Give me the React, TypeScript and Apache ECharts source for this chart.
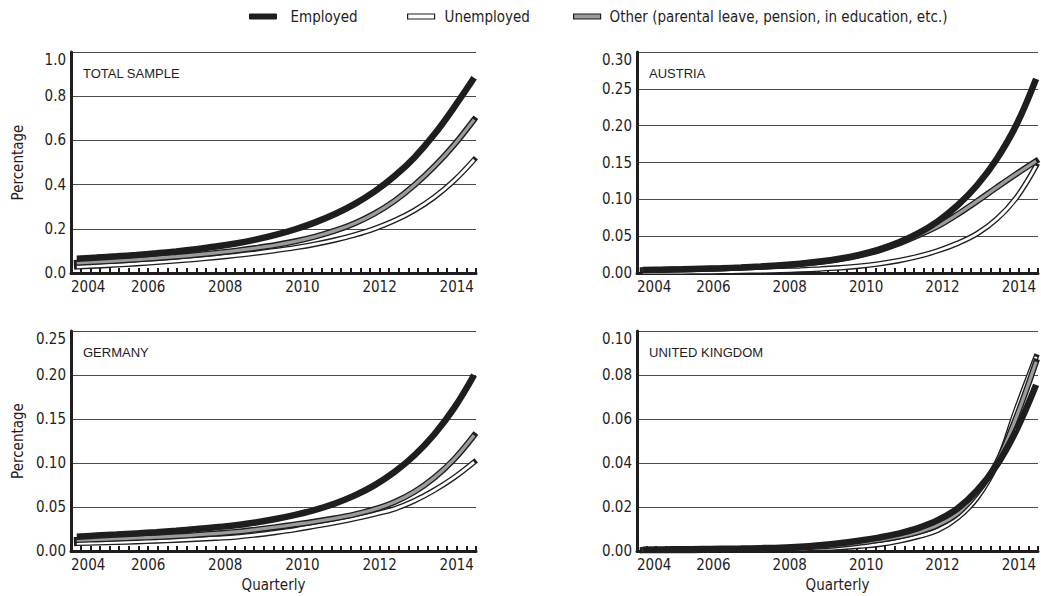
import React, { useEffect, useRef } from "react";
import * as echarts from "echarts";

const SAMPLE_YEARS = [
  2004.15, 2004.665, 2005.18, 2005.695, 2006.21, 2006.725, 2007.24, 2007.755, 2008.27, 2008.785, 2009.3,
  2009.815, 2010.33, 2010.845, 2011.36, 2011.875, 2012.39, 2012.905, 2013.42, 2013.935, 2014.45,
];

const SERIES_NAMES = ["Employed", "Unemployed", "Other (parental leave, pension, in education, etc.)"];
const PANEL_TITLES = ["TOTAL SAMPLE", "AUSTRIA", "GERMANY", "UNITED KINGDOM"];

// Total sample
const totalEmployed = [0.065, 0.0698, 0.0753, 0.0818, 0.0892, 0.0978, 0.1078, 0.1195, 0.1337, 0.151, 0.1722, 0.198, 0.2292, 0.2669, 0.3128, 0.369, 0.4385, 0.523, 0.6275, 0.7506, 0.8834];
const totalUnemployed = [0.028, 0.0321, 0.0368, 0.0421, 0.0483, 0.0549, 0.0622, 0.0705, 0.0799, 0.0902, 0.1018, 0.1149, 0.1304, 0.1493, 0.1725, 0.2009, 0.2371, 0.2833, 0.3428, 0.4182, 0.5123];
const totalOther = [0.046, 0.0505, 0.0555, 0.061, 0.0671, 0.074, 0.0816, 0.0906, 0.1012, 0.1129, 0.1266, 0.1436, 0.1648, 0.1915, 0.2254, 0.2695, 0.3262, 0.3978, 0.4822, 0.5805, 0.694];

// Austria
const austriaEmployed = [0.004, 0.0045, 0.0051, 0.0058, 0.0065, 0.0075, 0.0088, 0.0104, 0.0126, 0.0155, 0.0194, 0.0247, 0.0318, 0.0414, 0.0538, 0.0702, 0.0916, 0.1191, 0.1548, 0.2012, 0.2636];
const austriaUnemployed = [0.001, 0.0011, 0.0013, 0.0015, 0.0018, 0.0022, 0.0027, 0.0034, 0.0042, 0.0054, 0.007, 0.0092, 0.0124, 0.0167, 0.0225, 0.0302, 0.0402, 0.0534, 0.0732, 0.1024, 0.1454];
const austriaOther = [0.0038, 0.0043, 0.0049, 0.0056, 0.0062, 0.0072, 0.0084, 0.01, 0.0121, 0.0149, 0.0186, 0.0237, 0.0305, 0.0397, 0.051, 0.0635, 0.0795, 0.0975, 0.1162, 0.1345, 0.152];

// Germany
const germanyEmployed = [0.0163, 0.0175, 0.0187, 0.02, 0.0214, 0.023, 0.0249, 0.027, 0.0292, 0.0324, 0.0363, 0.041, 0.0468, 0.054, 0.0632, 0.0749, 0.0899, 0.1088, 0.1327, 0.1626, 0.2];
const germanyUnemployed = [0.0087, 0.0093, 0.0099, 0.0106, 0.0114, 0.0123, 0.0134, 0.0146, 0.0159, 0.0182, 0.0211, 0.0244, 0.0283, 0.0323, 0.0368, 0.042, 0.0479, 0.0571, 0.0691, 0.0836, 0.101];
const germanyOther = [0.0125, 0.0132, 0.014, 0.0148, 0.0157, 0.0168, 0.0183, 0.0199, 0.0217, 0.0243, 0.0271, 0.0302, 0.0335, 0.0372, 0.0417, 0.0475, 0.0556, 0.0673, 0.0834, 0.1043, 0.1314];

// United Kingdom
const ukEmployed = [0.0006, 0.0007, 0.0008, 0.0009, 0.001, 0.0011, 0.0013, 0.0015, 0.0019, 0.0026, 0.0035, 0.0047, 0.0061, 0.0079, 0.0104, 0.014, 0.0193, 0.0275, 0.039, 0.055, 0.0755];
const ukUnemployed = [0.0002, 0.0002, 0.0002, 0.0003, 0.0003, 0.0004, 0.0005, 0.0007, 0.0009, 0.0012, 0.0016, 0.0022, 0.003, 0.0045, 0.0066, 0.0094, 0.015, 0.0242, 0.0395, 0.0645, 0.0883];
const ukOther = [0.0004, 0.0005, 0.0005, 0.0006, 0.0007, 0.0008, 0.001, 0.0012, 0.0015, 0.002, 0.0027, 0.0037, 0.005, 0.0065, 0.0086, 0.0118, 0.017, 0.0265, 0.04, 0.061, 0.086];

const Y_MAX = [1.0, 0.3, 0.25, 0.1];
const Y_INTERVAL = [0.2, 0.05, 0.05, 0.02];
const Y_DECIMALS = [1, 2, 2, 2];

const X_MIN = 2004;
const X_MAX = 2014.5;

const FONT = "'DejaVu Sans Condensed', 'Liberation Sans Narrow', sans-serif";
const INK = "#1f1d1e";
const FS = 15;

const PANEL_DATA = [
  [totalEmployed, totalUnemployed, totalOther],
  [austriaEmployed, austriaUnemployed, austriaOther],
  [germanyEmployed, germanyUnemployed, germanyOther],
  [ukEmployed, ukUnemployed, ukOther],
];

const GRIDS = [
  { left: 71, top: 52, width: 405, height: 221 },
  { left: 637, top: 52, width: 404, height: 221 },
  { left: 71, top: 331, width: 405, height: 220 },
  { left: 637, top: 331, width: 404, height: 220 },
];

function pairs(vals: number[]) {
  return SAMPLE_YEARS.map((t, i) => [t, vals[i]]);
}

function buildOption() {
  const xAxis: any[] = [];
  const yAxis: any[] = [];
  const series: any[] = [];
  const title: any[] = [];

  GRIDS.forEach((g, i) => {
    const bottom = i >= 2;
    const leftCol = i % 2 === 0;
    xAxis.push({
      type: "value",
      gridIndex: i,
      min: X_MIN,
      max: X_MAX,
      interval: 0.25,
      axisLine: { show: true, onZero: false, lineStyle: { color: INK, width: 3 } },
      axisTick: { show: true, inside: true, length: 5, lineStyle: { color: INK, width: 2 } },
      splitLine: { show: false },
      axisLabel: {
        fontFamily: FONT,
        fontSize: FS,
        color: INK,
        margin: 6,
        alignMinLabel: "left",
        hideOverlap: false,
        formatter: (v: number) => {
          const r = Math.round(v);
          return Math.abs(v - r) < 1e-6 && r % 2 === 0 ? String(r) : "";
        },
      },
      name: bottom ? "Quarterly" : "",
      nameLocation: "middle",
      nameGap: 26,
      nameTextStyle: { fontFamily: FONT, fontSize: FS, color: INK },
    });
    yAxis.push({
      type: "value",
      gridIndex: i,
      min: 0,
      max: Y_MAX[i],
      interval: Y_INTERVAL[i],
      axisLine: { show: true, lineStyle: { color: INK, width: 3 } },
      axisTick: { show: false },
      splitLine: { show: true, lineStyle: { color: "#4a4a4a", width: 1 } },
      axisLabel: {
        fontFamily: FONT,
        fontSize: FS,
        color: INK,
        margin: 5,
        verticalAlignMaxLabel: "top",
        formatter: (v: number) => v.toFixed(Y_DECIMALS[i]),
      },
      name: leftCol ? "Percentage" : "",
      nameLocation: "middle",
      nameGap: 46,
      nameTextStyle: { fontFamily: FONT, fontSize: FS, color: INK },
    });
    title.push({
      text: PANEL_TITLES[i],
      left: g.left + 12,
      top: g.top + 15,
      padding: 0,
      textStyle: { fontFamily: "'Liberation Sans', Arial, sans-serif", fontSize: 13, fontWeight: "normal", color: INK },
    });

    const [emp, unemp, other] = PANEL_DATA[i];
    const common = {
      type: "line",
      xAxisIndex: i,
      yAxisIndex: i,
      smooth: 0.4,
      showSymbol: false,
      symbol: "none",
      clip: false,
      silent: true,
    };
    series.push({ ...common, id: `u-out-${i}`, data: pairs(unemp), z: 2, lineStyle: { color: INK, width: 5.5, cap: "square" } });
    series.push({ ...common, name: SERIES_NAMES[1], data: pairs(unemp), z: 3, itemStyle: { color: "#ffffff" }, lineStyle: { color: "#ffffff", width: 2.8, cap: "butt" } });
    series.push({ ...common, id: `o-out-${i}`, data: pairs(other), z: 4, lineStyle: { color: INK, width: 6, cap: "square" } });
    series.push({ ...common, name: SERIES_NAMES[2], data: pairs(other), z: 5, itemStyle: { color: "#9b9b9b" }, lineStyle: { color: "#9b9b9b", width: 3.3, cap: "butt" } });
    series.push({ ...common, name: SERIES_NAMES[0], data: pairs(emp), z: 6, itemStyle: { color: INK }, lineStyle: { color: INK, width: 6.5, cap: "butt" } });
  });

  const legendBase = {
    top: 9,
    icon: "rect",
    itemWidth: 27,
    itemHeight: 5,
    selectedMode: false,
    padding: 0,
    textStyle: { fontFamily: FONT, fontSize: FS, color: INK },
  };

  const legend = [
    {
      ...legendBase,
      left: 249,
      data: [{ name: SERIES_NAMES[0], itemStyle: { color: INK, borderColor: INK, borderWidth: 1 } }],
      textStyle: { ...legendBase.textStyle, padding: [0, 0, 0, 9] },
    },
    {
      ...legendBase,
      left: 407,
      data: [{ name: SERIES_NAMES[1], itemStyle: { color: "#ffffff", borderColor: INK, borderWidth: 1.2 } }],
      textStyle: { ...legendBase.textStyle, padding: [0, 0, 0, 5] },
    },
    {
      ...legendBase,
      left: 573,
      data: [{ name: SERIES_NAMES[2], itemStyle: { color: "#9b9b9b", borderColor: INK, borderWidth: 1.2 } }],
      textStyle: { ...legendBase.textStyle, padding: [0, 0, 0, 4] },
    },
  ];

  return {
    animation: false,
    backgroundColor: "#ffffff",
    textStyle: { fontFamily: FONT },
    title,
    legend,
    grid: GRIDS.map((g) => ({ ...g, containLabel: false })),
    xAxis,
    yAxis,
    series,
  };
}

export default function App() {
  const ref = useRef<HTMLDivElement>(null);
  useEffect(() => {
    if (!ref.current) return;
    const chart = echarts.init(ref.current, undefined, { renderer: "svg" });
    chart.setOption(buildOption() as any);
    return () => chart.dispose();
  }, []);
  return <div ref={ref} style={{ width: 1041, height: 596, position: "absolute", left: 0, top: 0 }} />;
}
